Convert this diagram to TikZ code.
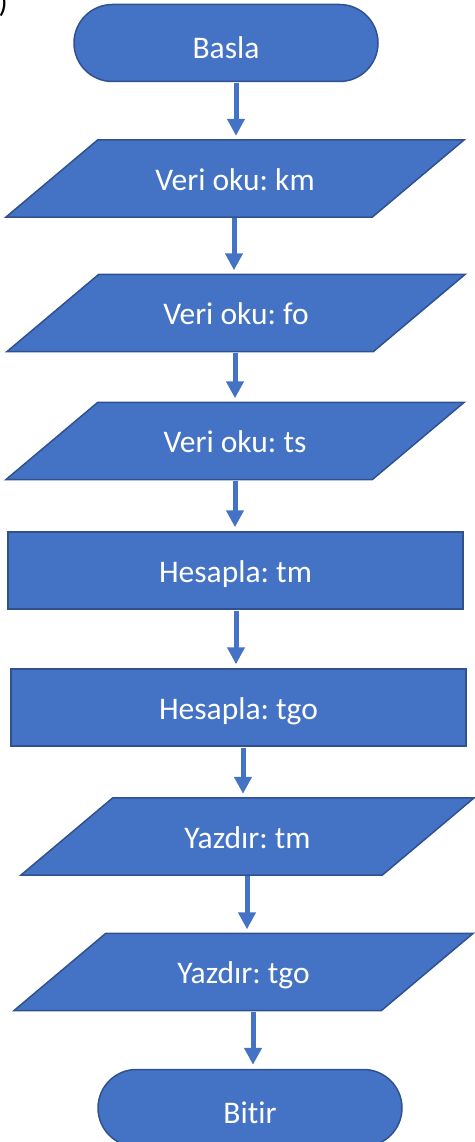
\documentclass[tikz,border=0pt]{standalone}
\usepackage{fontspec}
\setmainfont{Carlito}[Ligatures=NoCommon]
\usetikzlibrary{shapes.misc,arrows.meta,backgrounds,calc}
\definecolor{obfill}{HTML}{4472C4}
\definecolor{obline}{HTML}{2F528F}
\frenchspacing
\begin{document}
\begin{tikzpicture}[x=1pt,y=-1pt,
  txt/.style={text=white, font=\fontsize{31.5}{36}\selectfont, inner sep=0pt,
              text height=23pt, text depth=0pt, minimum height=77pt},
  shapeline/.style={draw=obline, line width=1.5pt, fill=obfill},
  term/.style={txt, shapeline, rounded rectangle, minimum width=304pt, text height=31pt},
  proc/.style={txt, shapeline, rectangle},
  iotext/.style={txt, rectangle},
  iobox/.style={shapeline},
  arr/.style={draw=obfill, line width=5pt, -{Triangle[length=17pt,width=17pt]},
              shorten >=4pt, shorten <=1pt},
]
\useasboundingbox (0,0) rectangle (474,1142);

\node[anchor=base west, inner sep=0pt, font=\fontsize{30}{34}\selectfont] (paren) at (-1.5,12.5) {)};

\node[term] (basla) at (226,43) {Basla};
\node[iotext, minimum width=458pt] (km) at (235,178.5) {Veri oku: km};
\node[iotext, minimum width=458pt] (fo) at (236,313) {Veri oku: fo};
\node[iotext, minimum width=458pt] (ts) at (235,441) {Veri oku: ts};
\node[proc, minimum width=455pt] (tm) at (235.5,570.5) {Hesapla: tm};
\node[proc, minimum width=455pt] (tgo) at (238.5,707.5) {Hesapla: tgo};
\node[iotext, minimum width=453pt] (ytm) at (247.5,836.5) {Yazdır: tm};
\node[iotext, minimum width=459pt] (ytgo) at (243.5,972) {Yazdır: tgo};
\node[term] (bitir) at (250,1108) {Bitir};

\begin{scope}[on background layer]
\foreach \n in {km,fo,ts,ytm,ytgo}
  \draw[iobox] ($(\n.north west)+(92,0)$) -- (\n.north east)
     -- ($(\n.south east)+(-92,0)$) -- (\n.south west) -- cycle;
\end{scope}

\coordinate (xa) at (236,0);
\coordinate (xb) at (234,0);
\coordinate (xc) at (235,0);
\coordinate (xd) at (235,0);
\coordinate (xe) at (236,0);
\coordinate (xf) at (243,0);
\coordinate (xg) at (247,0);
\coordinate (xh) at (253,0);

\draw[arr] (basla.south -| xa) -- (km.north -| xa);
\draw[arr] (km.south -| xb) -- (fo.north -| xb);
\draw[arr] (fo.south -| xc) -- (ts.north -| xc);
\draw[arr] (ts.south -| xd) -- (tm.north -| xd);
\draw[arr] (tm.south -| xe) -- (tgo.north -| xe);
\draw[arr] (tgo.south -| xf) -- (ytm.north -| xf);
\draw[arr] (ytm.south -| xg) -- (ytgo.north -| xg);
\draw[arr] (ytgo.south -| xh) -- (bitir.north -| xh);
\end{tikzpicture}
\end{document}
